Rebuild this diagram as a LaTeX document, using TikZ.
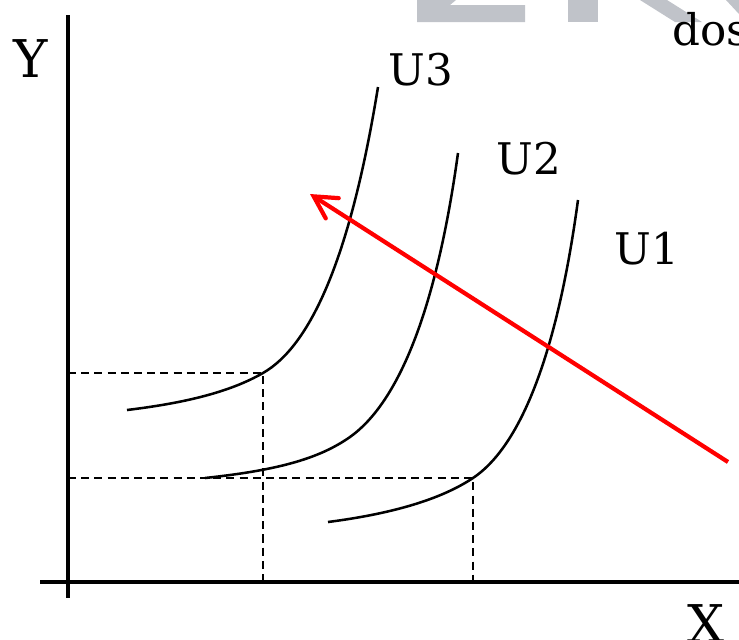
\documentclass[tikz,border=0pt]{standalone}
\usepackage{fontspec}
\setmainfont{DejaVu Serif}
\usepackage{tikz}
\usetikzlibrary{arrows.meta}

\definecolor{markgray}{RGB}{192,195,201}
\tikzset{
  lbl/.style={inner sep=0pt, font=\fontsize{31}{36}\selectfont},
  axlbl/.style={inner sep=0pt, font=\fontsize{37}{42}\selectfont},
  curve/.style={line width=1.8pt},
  guide/.style={line width=1.4pt, dash pattern=on 0.2cm off 0.13cm},
}

\begin{document}
\begin{tikzpicture}[x=0.025cm, y=-0.025cm]
  \useasboundingbox (0,0) rectangle (739,640);
  % faded mark at the top
  \fill[markgray] (417,0) -- (456,0) -- (450,5) -- (525,5) -- (525,22) -- (417,22) -- cycle;
  \fill[markgray] (568,0) rectangle (598,22);
  \fill[markgray] (640,0) -- (667,0) -- (702,22) -- (675,22) -- cycle;
  \fill[markgray] (726,0) -- (739,0) -- (739,14) -- cycle;

  % axes
  \draw[line width=2.3pt] (68,15) -- (68,598);
  \draw[line width=2.3pt] (40,582) -- (739,582);
  \node[axlbl, anchor=base] (ylab) at (31,77) {Y};
  \node[axlbl, anchor=base] (xlab) at (706,642) {X};

  % guide lines
  \draw[guide] (68,373) -- (263,373) -- (263,582);
  \draw[guide] (68,478) -- (473,478) -- (473,582);

  % indifference curves
  \draw[curve] (127,410) .. controls (185,403) and (230,392) .. (263,373)
    .. controls (310,346) and (350,260) .. (378,87);
  \draw[curve] (205,478) .. controls (280,470) and (320,458) .. (350,437)
    .. controls (395,405) and (435,320) .. (458,153);
  \draw[curve] (328,522) .. controls (390,514) and (440,500) .. (473,478)
    .. controls (515,450) and (555,370) .. (578,200);
  \node[lbl, anchor=base west] (u3) at (388,85) {U3};
  \node[lbl, anchor=base west] (u2) at (496,174) {U2};
  \node[lbl, anchor=base west] (u1) at (614,264) {U1};
  \node[lbl, anchor=base west] (dos) at (672,45) {dos};

  % shift
  \coordinate (from) at (728,462);
  \coordinate (to) at (310,194);
  \draw[red, line width=3pt, -{Straight Barb[length=0.55cm, width=0.6cm, line cap=round]}] (from) -- (to);
\end{tikzpicture}
\end{document}
